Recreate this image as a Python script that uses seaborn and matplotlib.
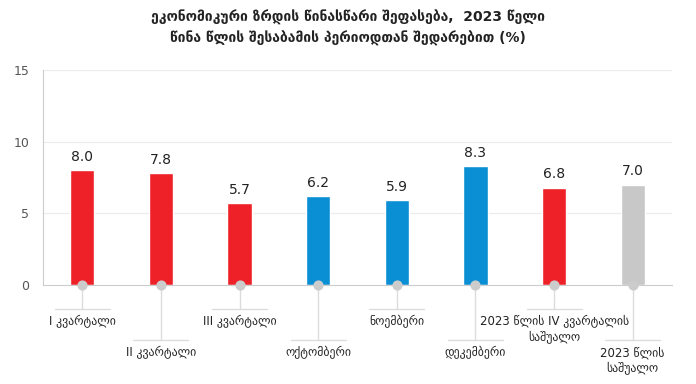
import matplotlib.pyplot as plt
import matplotlib.transforms as mtransforms
import seaborn as sns

# data
categories = ['I კვარტალი', 'II კვარტალი', 'III კვარტალი', 'ოქტომბერი',
              'ნოემბერი', 'დეკემბერი', '2023 წლის IV კვარტალის\nსაშუალო',
              '2023 წლის\nსაშუალო']
values = [8.0, 7.8, 5.7, 6.2, 5.9, 8.3, 6.8, 7.0]
bar_colors = ['#ee2128', '#ee2128', '#ee2128', '#0a8fd4',
              '#0a8fd4', '#0a8fd4', '#ee2128', '#c8c8c8']
yticks = [0, 5, 10, 15]

sns.set_theme(style='white')
plt.rcParams['font.family'] = ['DejaVu Sans']

fig = plt.figure(figsize=(6.96, 3.84), dpi=100)
ax = fig.add_axes([43 / 696, 1 - 285 / 384, 629 / 696, 215 / 384])

sns.barplot(x=categories, y=values, hue=categories, palette=bar_colors,
            legend=False, width=0.31, saturation=1, ax=ax)

ax.set_ylim(0, 15)
ax.set_xlim(-0.5, len(categories) - 0.5)
ax.set_yticks(yticks)
ax.set_yticklabels([str(t) for t in yticks], fontsize=9, color='#555555')
ax.tick_params(axis='y', length=4, width=0.8, color='#cccccc', pad=6)
ax.set_xticks([])
ax.set_xlabel('')
ax.set_ylabel('')
for t in yticks[1:]:
    ax.axhline(t, color='#ebebeb', lw=0.8, zorder=0)

for s in ['top', 'right']:
    ax.spines[s].set_visible(False)
ax.spines['left'].set_color('#cccccc')
ax.spines['bottom'].set_color('#cccccc')
ax.spines['left'].set_linewidth(0.8)
ax.spines['bottom'].set_linewidth(0.8)

# value labels
for i, v in enumerate(values):
    ax.text(i, v + 0.45, f'{v:.1f}', ha='center', va='bottom',
            fontsize=10, color='#222222')

# leader lines and category labels under the axis
trans = mtransforms.blended_transform_factory(ax.transData, ax.transAxes)
for i, lab in enumerate(categories):
    low = (i % 2 == 1)
    y_bar = -55 / 215 if low else -24 / 215
    y_txt = -61 / 215 if low else -30 / 215
    ax.plot([i, i], [0, y_bar], transform=trans, color='#dcdcdc',
            lw=1, clip_on=False, zorder=1)
    ax.plot([i - 0.35, i + 0.35], [y_bar, y_bar], transform=trans,
            color='#dcdcdc', lw=1, clip_on=False, zorder=1)
    ax.text(i, y_txt, lab, transform=trans, ha='center', va='top',
            fontsize=8.5, color='#222222', linespacing=1.2)

ax.scatter(range(len(values)), [0] * len(values), s=40, color='#cccccc',
           zorder=5, clip_on=False)

fig.text(0.5, 1 - 17 / 384,
         'ეკონომიკური ზრდის წინასწარი შეფასება,  2023 წელი',
         ha='center', va='center', fontsize=10, fontweight='bold',
         color='#222222')
fig.text(0.5, 1 - 38 / 384,
         'წინა წლის შესაბამის პერიოდთან შედარებით (%)',
         ha='center', va='center', fontsize=10, fontweight='bold',
         color='#222222')

fig.savefig('out.png', dpi=100)
plt.close(fig)
